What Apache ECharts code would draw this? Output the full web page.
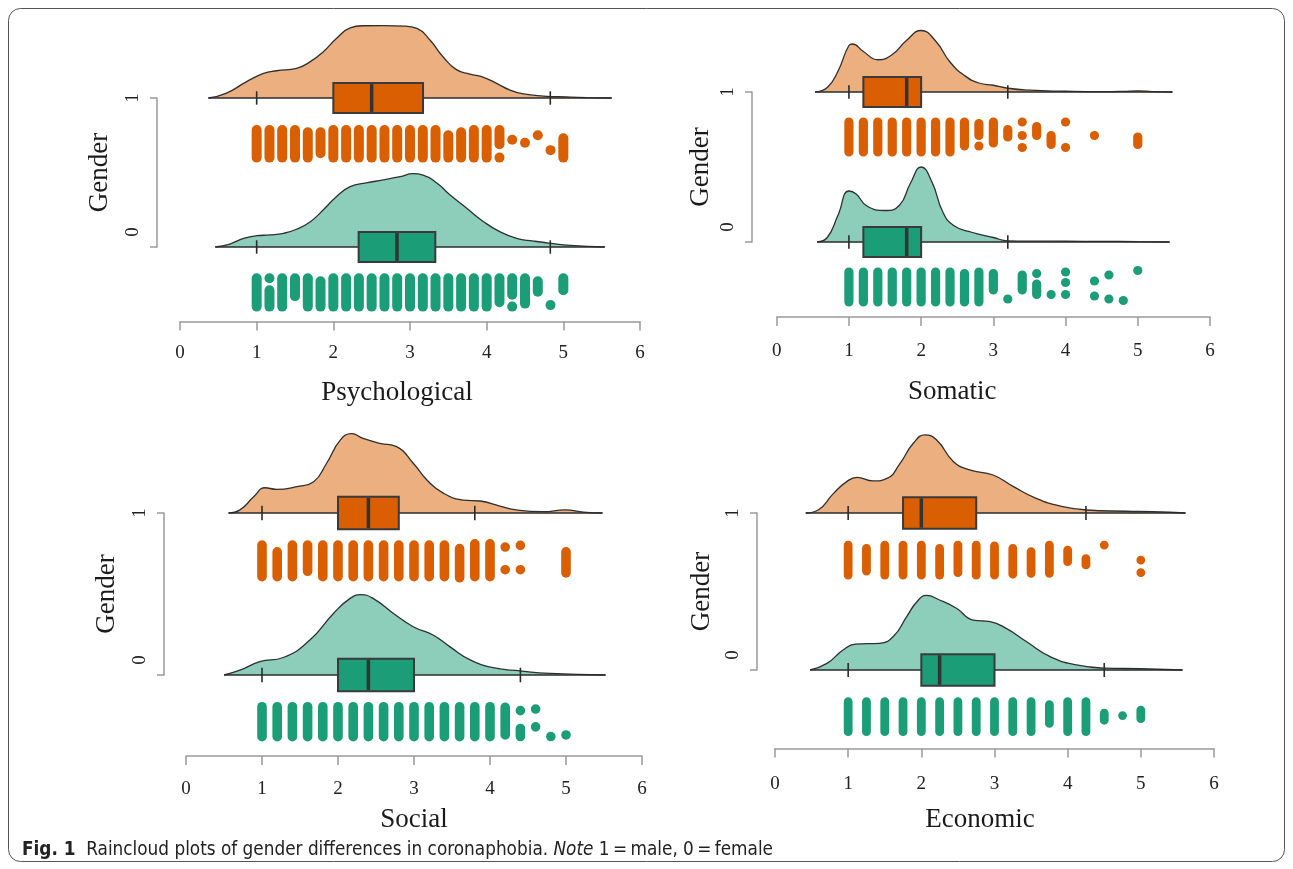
<!DOCTYPE html>
<html>
<head>
<meta charset="utf-8">
<title>Raincloud plots of gender differences in coronaphobia</title>
<script src="https://cdn.jsdelivr.net/npm/echarts@6.0.0/dist/echarts.min.js"></script>
<style>
  html, body { margin: 0; padding: 0; background: #fff; }
  #chart { width: 1293px; height: 869px; }
</style>
</head>
<body>
<div id="chart"></div>
<script>
// ---- data ----
const panelTitles = ['Psychological', 'Somatic', 'Social', 'Economic'];
const genderTicks = [0, 1];          // 0 = female, 1 = male
const xTickMax = 6;

// density clouds: [score, height above the group baseline]
const psyMaleCloud = [[0.37,0],[0.6,0.031],[0.87,0.11],[1.09,0.165],[1.26,0.183],[1.52,0.199],[1.7,0.244],[1.87,0.311],[2.04,0.40],[2.22,0.47],[2.39,0.485],[2.65,0.486],[2.91,0.483],[3.09,0.467],[3.26,0.389],[3.43,0.277],[3.6,0.192],[3.78,0.161],[3.96,0.139],[4.13,0.098],[4.3,0.054],[4.48,0.027],[4.74,0.013],[5.04,0.007],[5.3,0.003],[5.63,0]];
const psyFemaleCloud = [[0.46,0],[0.65,0.02],[0.83,0.058],[1.0,0.076],[1.17,0.081],[1.35,0.092],[1.52,0.119],[1.7,0.17],[1.87,0.25],[2.04,0.338],[2.22,0.405],[2.43,0.43],[2.65,0.45],[2.87,0.472],[3.04,0.492],[3.17,0.483],[3.35,0.43],[3.52,0.35],[3.74,0.26],[3.96,0.17],[4.17,0.103],[4.39,0.058],[4.61,0.04],[4.83,0.025],[5.09,0.011],[5.54,0]];
const somMaleCloud = [[0.53,0],[0.7,0.03],[0.85,0.14],[1.0,0.31],[1.05,0.32],[1.2,0.27],[1.4,0.215],[1.6,0.25],[1.8,0.345],[2.0,0.41],[2.2,0.34],[2.4,0.2],[2.6,0.11],[2.8,0.06],[3.0,0.045],[3.2,0.025],[3.5,0.012],[4.0,0.005],[4.5,0.002],[4.8,0.004],[5.0,0.008],[5.2,0.003],[5.48,0]];
const somFemaleCloud = [[0.56,0],[0.7,0.03],[0.85,0.18],[1.0,0.34],[1.1,0.32],[1.25,0.24],[1.5,0.21],[1.7,0.245],[1.85,0.39],[2.0,0.5],[2.15,0.40],[2.3,0.2],[2.45,0.11],[2.7,0.065],[3.0,0.03],[3.2,0.008],[3.6,0.006],[4.0,0.005],[4.5,0.004],[5.0,0.003],[5.44,0]];
const socMaleCloud = [[0.56,0],[0.71,0.019],[0.89,0.1],[1.04,0.156],[1.19,0.146],[1.46,0.163],[1.68,0.193],[1.85,0.307],[2.03,0.45],[2.18,0.49],[2.33,0.46],[2.55,0.43],[2.77,0.41],[2.99,0.307],[3.17,0.204],[3.39,0.121],[3.65,0.08],[3.87,0.074],[4.13,0.043],[4.35,0.019],[4.7,0.008],[4.99,0.019],[5.23,0.006],[5.48,0]];
const socFemaleCloud = [[0.5,0],[0.71,0.03],[0.97,0.082],[1.28,0.108],[1.63,0.216],[1.94,0.38],[2.16,0.473],[2.3,0.496],[2.46,0.473],[2.73,0.38],[2.99,0.298],[3.25,0.247],[3.47,0.175],[3.74,0.093],[4.04,0.045],[4.4,0.025],[4.79,0.01],[5.52,0]];
const ecoMaleCloud = [[0.42,0],[0.59,0.019],[0.8,0.125],[0.98,0.2],[1.12,0.227],[1.34,0.204],[1.53,0.22],[1.71,0.316],[1.89,0.444],[2.05,0.497],[2.21,0.465],[2.44,0.327],[2.66,0.274],[2.98,0.242],[3.26,0.168],[3.57,0.093],[3.89,0.045],[4.26,0.019],[4.8,0.011],[5.17,0.008],[5.61,0]];
const ecoFemaleCloud = [[0.48,0],[0.71,0.042],[0.93,0.127],[1.1,0.165],[1.43,0.17],[1.62,0.215],[1.8,0.34],[1.94,0.435],[2.07,0.475],[2.25,0.446],[2.48,0.393],[2.71,0.318],[2.94,0.308],[3.16,0.265],[3.44,0.18],[3.76,0.085],[4.12,0.032],[4.51,0.012],[5.0,0.008],[5.57,0]];

// box plots: [lower whisker, Q1, median, Q3, upper whisker]
const psyMaleBox = [1.0, 2.0, 2.5, 3.17, 4.83];
const psyFemaleBox = [1.0, 2.33, 2.83, 3.33, 4.83];
const somMaleBox = [1.0, 1.2, 1.8, 2.0, 3.2];
const somFemaleBox = [1.0, 1.2, 1.8, 2.0, 3.2];
const socMaleBox = [1.0, 2.0, 2.4, 2.8, 3.8];
const socFemaleBox = [1.0, 2.0, 2.4, 3.0, 4.4];
const ecoMaleBox = [1.0, 1.75, 2.0, 2.75, 4.25];
const ecoFemaleBox = [1.0, 2.0, 2.25, 3.0, 4.5];

// jittered raw scores ("rain"): [score, top offset, bottom offset] below the baseline
const psyMaleRain = [[1.0,-0.215,-0.40],[1.167,-0.215,-0.40],[1.333,-0.215,-0.40],[1.5,-0.215,-0.40],[1.667,-0.23,-0.40],[1.833,-0.23,-0.37],[2.0,-0.215,-0.40],[2.167,-0.215,-0.40],[2.333,-0.215,-0.40],[2.5,-0.215,-0.40],[2.667,-0.215,-0.40],[2.833,-0.215,-0.40],[3.0,-0.215,-0.40],[3.167,-0.215,-0.40],[3.333,-0.215,-0.40],[3.5,-0.25,-0.40],[3.667,-0.23,-0.40],[3.833,-0.215,-0.40],[4.0,-0.215,-0.40],[4.167,-0.215,-0.31],[4.167,-0.40,-0.40],[4.333,-0.28,-0.28],[4.5,-0.30,-0.30],[4.667,-0.25,-0.25],[4.833,-0.35,-0.35],[5.0,-0.27,-0.40]];
const psyFemaleRain = [[1.0,-0.21,-0.40],[1.167,-0.21,-0.21],[1.167,-0.29,-0.40],[1.333,-0.21,-0.40],[1.5,-0.21,-0.33],[1.667,-0.21,-0.40],[1.833,-0.23,-0.40],[2.0,-0.21,-0.40],[2.167,-0.21,-0.40],[2.333,-0.21,-0.40],[2.5,-0.21,-0.40],[2.667,-0.21,-0.40],[2.833,-0.21,-0.40],[3.0,-0.21,-0.40],[3.167,-0.21,-0.40],[3.333,-0.21,-0.40],[3.5,-0.21,-0.40],[3.667,-0.21,-0.40],[3.833,-0.21,-0.40],[4.0,-0.21,-0.40],[4.167,-0.21,-0.37],[4.333,-0.21,-0.32],[4.333,-0.40,-0.40],[4.5,-0.21,-0.38],[4.667,-0.23,-0.30],[4.833,-0.39,-0.39],[5.0,-0.21,-0.29]];
const somMaleRain = [[1.0,-0.20,-0.40],[1.2,-0.20,-0.40],[1.4,-0.20,-0.40],[1.6,-0.20,-0.40],[1.8,-0.20,-0.40],[2.0,-0.20,-0.40],[2.2,-0.20,-0.40],[2.4,-0.20,-0.40],[2.6,-0.20,-0.36],[2.8,-0.21,-0.29],[2.8,-0.36,-0.36],[3.0,-0.20,-0.34],[3.2,-0.25,-0.30],[3.4,-0.20,-0.20],[3.4,-0.29,-0.29],[3.4,-0.37,-0.37],[3.6,-0.23,-0.29],[3.8,-0.29,-0.35],[4.0,-0.20,-0.20],[4.0,-0.37,-0.37],[4.4,-0.29,-0.29],[5.0,-0.30,-0.35]];
const somFemaleRain = [[1.0,-0.20,-0.40],[1.2,-0.20,-0.40],[1.4,-0.20,-0.40],[1.6,-0.20,-0.40],[1.8,-0.20,-0.40],[2.0,-0.20,-0.40],[2.2,-0.20,-0.40],[2.4,-0.20,-0.40],[2.6,-0.21,-0.40],[2.8,-0.20,-0.40],[3.0,-0.21,-0.32],[3.2,-0.38,-0.38],[3.4,-0.22,-0.32],[3.6,-0.21,-0.21],[3.6,-0.28,-0.35],[3.8,-0.35,-0.35],[4.0,-0.20,-0.20],[4.0,-0.27,-0.27],[4.0,-0.35,-0.35],[4.4,-0.26,-0.26],[4.4,-0.36,-0.36],[4.6,-0.22,-0.22],[4.6,-0.38,-0.38],[4.8,-0.39,-0.39],[5.0,-0.19,-0.19]];
const socMaleRain = [[1.0,-0.198,-0.393],[1.2,-0.24,-0.393],[1.4,-0.198,-0.393],[1.6,-0.198,-0.36],[1.8,-0.198,-0.393],[2.0,-0.198,-0.393],[2.2,-0.198,-0.393],[2.4,-0.198,-0.393],[2.6,-0.198,-0.393],[2.8,-0.198,-0.393],[3.0,-0.198,-0.393],[3.2,-0.198,-0.393],[3.4,-0.198,-0.393],[3.6,-0.22,-0.40],[3.8,-0.19,-0.393],[4.0,-0.19,-0.393],[4.2,-0.21,-0.21],[4.2,-0.35,-0.35],[4.4,-0.20,-0.20],[4.4,-0.35,-0.35],[5.0,-0.24,-0.37]];
const socFemaleRain = [[1.0,-0.196,-0.381],[1.2,-0.196,-0.381],[1.4,-0.196,-0.381],[1.6,-0.196,-0.381],[1.8,-0.196,-0.381],[2.0,-0.196,-0.381],[2.2,-0.196,-0.381],[2.4,-0.196,-0.381],[2.6,-0.196,-0.381],[2.8,-0.196,-0.381],[3.0,-0.196,-0.381],[3.2,-0.196,-0.381],[3.4,-0.196,-0.381],[3.6,-0.196,-0.381],[3.8,-0.196,-0.381],[4.0,-0.196,-0.381],[4.2,-0.20,-0.37],[4.4,-0.22,-0.22],[4.4,-0.33,-0.38],[4.6,-0.21,-0.21],[4.6,-0.32,-0.32],[4.8,-0.38,-0.38],[5.0,-0.37,-0.37]];
const ecoMaleRain = [[1.0,-0.204,-0.395],[1.25,-0.225,-0.37],[1.5,-0.204,-0.395],[1.75,-0.204,-0.395],[2.0,-0.204,-0.395],[2.25,-0.225,-0.395],[2.5,-0.204,-0.38],[2.75,-0.204,-0.395],[3.0,-0.21,-0.395],[3.25,-0.225,-0.39],[3.5,-0.246,-0.384],[3.75,-0.204,-0.384],[4.0,-0.236,-0.31],[4.25,-0.29,-0.33],[4.5,-0.204,-0.204],[5.0,-0.30,-0.30],[5.0,-0.38,-0.38]];
const ecoFemaleRain = [[1.0,-0.202,-0.393],[1.25,-0.202,-0.393],[1.5,-0.202,-0.393],[1.75,-0.202,-0.393],[2.0,-0.202,-0.393],[2.25,-0.202,-0.393],[2.5,-0.202,-0.393],[2.75,-0.202,-0.393],[3.0,-0.202,-0.393],[3.25,-0.202,-0.393],[3.5,-0.202,-0.393],[3.75,-0.22,-0.34],[4.0,-0.202,-0.393],[4.25,-0.202,-0.393],[4.5,-0.275,-0.32],[4.75,-0.29,-0.29],[5.0,-0.255,-0.31]];

// ---- layout / styling ----
const SERIF = '"Liberation Serif", "Times New Roman", serif';
const SANS = '"Liberation Sans Narrow", "DejaVu Sans Condensed", "Liberation Sans", sans-serif';
const ORANGE = '#d95f02', GREEN = '#1b9e77';
const ORANGE_FILL = 'rgba(217,95,2,0.5)', GREEN_FILL = 'rgba(27,158,119,0.5)';
const AXIS_GREY = '#9a9a9a';
const BOX_H = 0.1, CAP_H = 0.045;

const panels = [
  { title: panelTitles[0], left: 180, width: 460, top: 23.5, height: 298, bracket: 157, genderGap: 44, dot: 5.0, titleShift: 26, nameGap: 58, labelMargin: 22,
    male: [psyMaleCloud, psyMaleBox, psyMaleRain], female: [psyFemaleCloud, psyFemaleBox, psyFemaleRain] },
  { title: panelTitles[1], left: 776.7, width: 433.3, top: 17, height: 300, bracket: 752, genderGap: 38, dot: 4.6, titleShift: 82, nameGap: 61, labelMargin: 25,
    male: [somMaleCloud, somMaleBox, somMaleRain], female: [somFemaleCloud, somFemaleBox, somFemaleRain] },
  { title: panelTitles[2], left: 186, width: 456, top: 432, height: 324, bracket: 164, genderGap: 44, dot: 4.8, titleShift: 0, nameGap: 50, labelMargin: 24,
    male: [socMaleCloud, socMaleBox, socMaleRain], female: [socFemaleCloud, socFemaleBox, socFemaleRain] },
  { title: panelTitles[3], left: 775, width: 439, top: 434.5, height: 314, bracket: 757, genderGap: 42, dot: 4.4, titleShift: 29, nameGap: 58, labelMargin: 26,
    male: [ecoMaleCloud, ecoMaleBox, ecoMaleRain], female: [ecoFemaleCloud, ecoFemaleBox, ecoFemaleRain] }
];

function boxRender(base) {
  return function (params, api) {
    const fill = api.visual('color');
    const c = (x, y) => api.coord([x, y]);
    const a = c(api.value(0), base), b = c(api.value(6), base);
    const children = [
      { type: 'line', shape: { x1: a[0], y1: a[1], x2: b[0], y2: b[1] }, style: { stroke: '#2b2b2b', lineWidth: 1.6 } }
    ];
    [1, 5].forEach(function (k) {
      const t = c(api.value(k), base + CAP_H), u = c(api.value(k), base - CAP_H);
      children.push({ type: 'line', shape: { x1: t[0], y1: t[1], x2: u[0], y2: u[1] }, style: { stroke: '#2b2b2b', lineWidth: 1.6 } });
    });
    const q1 = c(api.value(2), base + BOX_H), q3 = c(api.value(4), base - BOX_H);
    children.push({ type: 'rect', shape: { x: q1[0], y: q1[1], width: q3[0] - q1[0], height: q3[1] - q1[1] },
      style: { fill: fill, stroke: '#3a3a3a', lineWidth: 2 } });
    const m1 = c(api.value(3), base + BOX_H), m2 = c(api.value(3), base - BOX_H);
    children.push({ type: 'line', shape: { x1: m1[0], y1: m1[1] + 1, x2: m2[0], y2: m2[1] - 1 }, style: { stroke: '#333', lineWidth: 3.5 } });
    return { type: 'group', children: children };
  };
}

function rainRender(base, r) {
  return function (params, api) {
    const p1 = api.coord([api.value(0), base + api.value(1)]);
    const p2 = api.coord([api.value(0), base + api.value(2)]);
    return { type: 'rect', shape: { x: p1[0] - r, y: p1[1] - r, width: 2 * r, height: p2[1] - p1[1] + 2 * r, r: r },
      style: { fill: api.visual('color') } };
  };
}

const grids = [], xAxes = [], yAxes = [], series = [];

panels.forEach(function (p, i) {
  grids.push({ left: p.left, top: p.top, width: p.width, height: p.height });
  xAxes.push({
    gridIndex: i, type: 'value', min: 0, max: xTickMax, interval: 1,
    name: p.title, nameLocation: 'middle', nameGap: p.nameGap,
    nameTextStyle: { fontFamily: SERIF, fontSize: 27, color: '#1a1a1a', padding: [0, p.titleShift, 0, 0] },
    axisLine: { onZero: false, lineStyle: { color: AXIS_GREY, width: 1.5 } },
    axisTick: { length: 9, lineStyle: { color: AXIS_GREY, width: 1.5 } },
    axisLabel: { margin: p.labelMargin, fontFamily: SERIF, fontSize: 19, color: '#222' },
    splitLine: { show: false }
  });
  yAxes.push({ gridIndex: i, type: 'value', min: -0.5, max: 1.5, show: false, splitLine: { show: false } });

  [[p.male, 1, ORANGE, ORANGE_FILL], [p.female, 0, GREEN, GREEN_FILL]].forEach(function (g) {
    const cloud = g[0][0], box = g[0][1], rain = g[0][2], base = g[1];
    series.push({
      type: 'line', xAxisIndex: i, yAxisIndex: i, smooth: 0.5, symbol: 'none',
      data: cloud.map(function (d) { return [d[0], base + d[1]]; }),
      lineStyle: { color: '#2f2f2f', width: 1.3 },
      areaStyle: { color: g[3], opacity: 1, origin: base },
      silent: true, z: 1
    });
    series.push({
      type: 'custom', xAxisIndex: i, yAxisIndex: i, renderItem: boxRender(base),
      itemStyle: { color: g[2] },
      data: [[cloud[0][0]].concat(box, [cloud[cloud.length - 1][0]])],
      silent: true, z: 3
    });
    series.push({
      type: 'custom', xAxisIndex: i, yAxisIndex: i, renderItem: rainRender(base, p.dot),
      itemStyle: { color: g[2] }, data: rain, silent: true, z: 2
    });
  });
});

// gender axes: a thin grid per panel spanning gender 0..1
panels.forEach(function (p, i) {
  const k = panels.length + i;
  grids.push({ left: p.bracket, top: p.top + p.height / 4, width: 1, height: p.height / 2 });
  xAxes.push({ gridIndex: k, type: 'value', show: false, splitLine: { show: false } });
  yAxes.push({
    gridIndex: k, type: 'value', min: genderTicks[0], max: genderTicks[1], interval: 1,
    name: 'Gender', nameLocation: 'middle', nameGap: p.genderGap,
    nameTextStyle: { fontFamily: SERIF, fontSize: 27, color: '#1a1a1a' },
    axisLine: { show: true, onZero: false, lineStyle: { color: AXIS_GREY, width: 1.5 } },
    axisTick: { show: true, length: 7, lineStyle: { color: AXIS_GREY, width: 1.5 } },
    axisLabel: {
      rotate: 90, margin: 14, fontFamily: SERIF, fontSize: 19, color: '#222',
      formatter: function (v) { return v === 0 ? '{z|0}' : '{o|' + v + '}'; },
      rich: { z: { padding: [0, 0, 0, 30], fontFamily: SERIF, fontSize: 19, color: '#222' },
              o: { fontFamily: SERIF, fontSize: 19, color: '#222' } }
    },
    splitLine: { show: false }
  });
});

const chart = echarts.init(document.getElementById('chart'), null, { renderer: 'canvas' });
chart.setOption({
  animation: false,
  backgroundColor: '#fff',
  title: {
    text: '{b|Fig. 1}  Raincloud plots of gender differences in coronaphobia. {i|Note} 1\u2009=\u2009male, 0\u2009=\u2009female',
    left: 22, top: 841, padding: 0,
    textStyle: {
      fontFamily: SANS, fontSize: 18.8, fontWeight: 'normal', color: '#222',
      rich: {
        b: { fontFamily: SANS, fontSize: 18.8, fontWeight: 'bold', color: '#222' },
        i: { fontFamily: SANS, fontSize: 18.8, fontStyle: 'italic', color: '#222' }
      }
    }
  },
  graphic: [{
    type: 'rect', silent: true, z: -1,
    shape: { x: 8.5, y: 8.5, width: 1276, height: 853, r: 12 },
    style: { fill: 'none', stroke: '#555', lineWidth: 1 }
  }],
  grid: grids,
  xAxis: xAxes,
  yAxis: yAxes,
  series: series
});
</script>
</body>
</html>
